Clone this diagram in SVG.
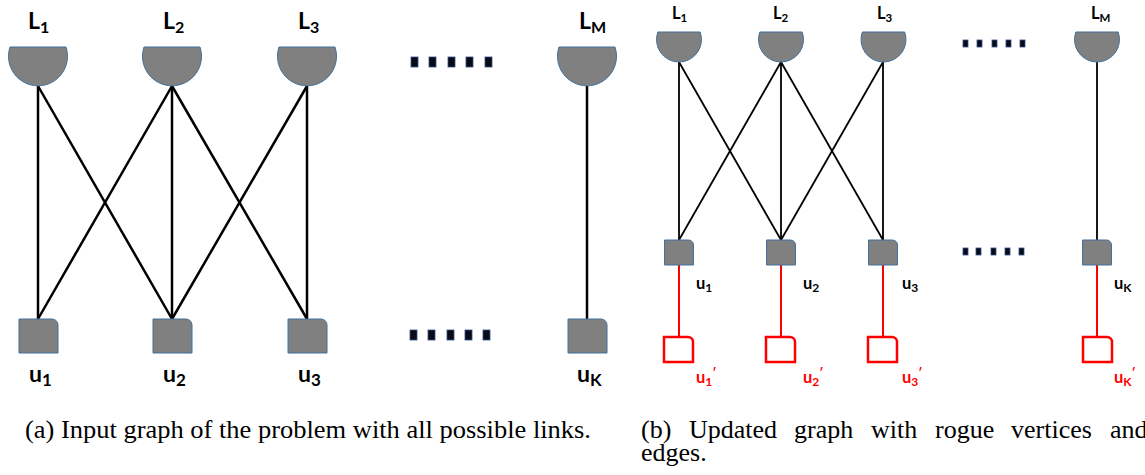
<svg xmlns="http://www.w3.org/2000/svg" width="1145" height="475" viewBox="0 0 1145 475">
<style>
.disc{fill:#808080;stroke:#41719C;stroke-width:1}
.unode{fill:#808080;stroke:#41719C;stroke-width:1}
.rnode{fill:#ffffff;stroke:#ff0000;stroke-width:2.5}
.ea{stroke:#000;stroke-width:2.5;fill:none}
.eb{stroke:#000;stroke-width:1.8;fill:none}
.er{stroke:#ff0000;stroke-width:2;fill:none}
.dot{fill:#0a0a14;stroke:#2F528F;stroke-width:0.8}
.lblA{font-family:Lato,"Open Sans",sans-serif;font-weight:bold;font-size:23px;fill:#000}
.lblB{font-family:Lato,"Open Sans",sans-serif;font-weight:bold;font-size:16.5px;fill:#000}
.red{fill:#ff0000}
.cap{font-family:"Liberation Serif","Times New Roman",serif;font-size:26px;fill:#000}
</style>
<g id="connectors">
  <g id="edges-a">
    <line class="ea" x1="38" y1="86" x2="38" y2="319"/>
    <line class="ea" x1="38" y1="86" x2="172" y2="319"/>
    <line class="ea" x1="172" y1="86" x2="38" y2="319"/>
    <line class="ea" x1="172" y1="86" x2="172" y2="319"/>
    <line class="ea" x1="172" y1="86" x2="307" y2="319"/>
    <line class="ea" x1="307" y1="86" x2="172" y2="319"/>
    <line class="ea" x1="307" y1="86" x2="307" y2="319"/>
    <line class="ea" x1="587" y1="86" x2="587" y2="319"/>
  </g>
  <g id="edges-b">
    <line class="eb" x1="679" y1="62" x2="679" y2="240"/>
    <line class="eb" x1="679" y1="62" x2="781" y2="240"/>
    <line class="eb" x1="781" y1="62" x2="679" y2="240"/>
    <line class="eb" x1="781" y1="62" x2="781" y2="240"/>
    <line class="eb" x1="781" y1="62" x2="883" y2="240"/>
    <line class="eb" x1="883" y1="62" x2="781" y2="240"/>
    <line class="eb" x1="883" y1="62" x2="883" y2="240"/>
    <line class="eb" x1="1097" y1="62" x2="1097" y2="240"/>
    <line class="er" x1="679" y1="265" x2="679" y2="337"/>
    <line class="er" x1="781" y1="265" x2="781" y2="337"/>
    <line class="er" x1="883" y1="265" x2="883" y2="337"/>
    <line class="er" x1="1097" y1="265" x2="1097" y2="337"/>
  </g>
</g>
<!-- panel (a) -->
<g id="a-L1"><path class="disc" d="M10,47 H66 A29.5,29.5 0 1 1 10,47 Z"/><text class="lblA" x="28" y="29">L<tspan font-size="16" dy="4">1</tspan></text></g>
<g id="a-L2"><path class="disc" d="M144,47 H200 A29.5,29.5 0 1 1 144,47 Z"/><text class="lblA" x="163" y="29">L<tspan font-size="16" dy="4">2</tspan></text></g>
<g id="a-L3"><path class="disc" d="M279,47 H335 A29.5,29.5 0 1 1 279,47 Z"/><text class="lblA" x="298" y="29">L<tspan font-size="16" dy="4">3</tspan></text></g>
<g id="a-LM"><path class="disc" d="M559,47 H615 A29.5,29.5 0 1 1 559,47 Z"/><text class="lblA" x="579" y="29">L<tspan font-size="16" dy="4">M</tspan></text></g>
<g id="a-u1"><path class="unode" d="M19,319 H52 A6,6 0 0 1 58,325 V353 H19 Z"/><text class="lblA" x="29" y="382">u<tspan font-size="17" dy="4">1</tspan></text></g>
<g id="a-u2"><path class="unode" d="M153,319 H186 A6,6 0 0 1 192,325 V353 H153 Z"/><text class="lblA" x="163" y="382">u<tspan font-size="17" dy="4">2</tspan></text></g>
<g id="a-u3"><path class="unode" d="M288,319 H321 A6,6 0 0 1 327,325 V353 H288 Z"/><text class="lblA" x="298" y="382">u<tspan font-size="17" dy="4">3</tspan></text></g>
<g id="a-uK"><path class="unode" d="M568,319 H601 A6,6 0 0 1 607,325 V353 H568 Z"/><text class="lblA" x="577" y="382">u<tspan font-size="17" dy="4">K</tspan></text></g>
<g id="a-dots-top">
  <rect class="dot" x="411" y="57" width="7" height="10"/><rect class="dot" x="429" y="57" width="7" height="10"/><rect class="dot" x="448" y="57" width="7" height="10"/><rect class="dot" x="466" y="57" width="7" height="10"/><rect class="dot" x="485" y="57" width="7" height="10"/>
</g>
<g id="a-dots-bottom">
  <rect class="dot" x="410" y="330" width="7" height="10"/><rect class="dot" x="428" y="330" width="7" height="10"/><rect class="dot" x="447" y="330" width="7" height="10"/><rect class="dot" x="465" y="330" width="7" height="10"/><rect class="dot" x="483" y="330" width="7" height="10"/>
</g>
<!-- panel (b) -->
<g id="b-L1"><path class="disc" d="M657.8,32 H700.2 A22.5,22.5 0 1 1 657.8,32 Z"/><text class="lblB" x="672" y="19">L<tspan font-size="11.5" dy="3">1</tspan></text></g>
<g id="b-L2"><path class="disc" d="M759.8,32 H802.2 A22.5,22.5 0 1 1 759.8,32 Z"/><text class="lblB" x="773" y="19">L<tspan font-size="11.5" dy="3">2</tspan></text></g>
<g id="b-L3"><path class="disc" d="M862.3,32 H904.7 A22.5,22.5 0 1 1 862.3,32 Z"/><text class="lblB" x="877" y="19">L<tspan font-size="11.5" dy="3">3</tspan></text></g>
<g id="b-LM"><path class="disc" d="M1075.8,32 H1118.2 A22.5,22.5 0 1 1 1075.8,32 Z"/><text class="lblB" x="1091" y="19">L<tspan font-size="11.5" dy="3">M</tspan></text></g>
<g id="b-u1"><path class="unode" d="M664.5,240 H688.5 A5,5 0 0 1 693.5,245 V265 H664.5 Z"/><text class="lblB" x="696" y="289">u<tspan font-size="12" dy="3">1</tspan></text></g>
<g id="b-u2"><path class="unode" d="M766.5,240 H790.5 A5,5 0 0 1 795.5,245 V265 H766.5 Z"/><text class="lblB" x="803" y="289">u<tspan font-size="12" dy="3">2</tspan></text></g>
<g id="b-u3"><path class="unode" d="M868.5,240 H892.5 A5,5 0 0 1 897.5,245 V265 H868.5 Z"/><text class="lblB" x="902" y="289">u<tspan font-size="12" dy="3">3</tspan></text></g>
<g id="b-uK"><path class="unode" d="M1082.5,240 H1106.5 A5,5 0 0 1 1111.5,245 V265 H1082.5 Z"/><text class="lblB" x="1114" y="289">u<tspan font-size="12" dy="3">K</tspan></text></g>
<g id="b-u1p"><path class="rnode" d="M664,337 H688 A5,5 0 0 1 693,342 V362 H664 Z"/><text class="lblB red" x="696" y="383">u<tspan font-size="12" dy="3">1</tspan><tspan font-size="12" dy="-9">′</tspan></text></g>
<g id="b-u2p"><path class="rnode" d="M766,337 H790 A5,5 0 0 1 795,342 V362 H766 Z"/><text class="lblB red" x="803" y="383">u<tspan font-size="12" dy="3">2</tspan><tspan font-size="12" dy="-9">′</tspan></text></g>
<g id="b-u3p"><path class="rnode" d="M868,337 H892 A5,5 0 0 1 897,342 V362 H868 Z"/><text class="lblB red" x="902" y="383">u<tspan font-size="12" dy="3">3</tspan><tspan font-size="12" dy="-9">′</tspan></text></g>
<g id="b-uKp"><path class="rnode" d="M1083,337 H1107 A5,5 0 0 1 1112,342 V362 H1083 Z"/><text class="lblB red" x="1114" y="383">u<tspan font-size="12" dy="3">K</tspan><tspan font-size="12" dy="-9">′</tspan></text></g>
<g id="b-dots-top">
  <rect class="dot" x="963" y="40" width="5" height="7"/><rect class="dot" x="977" y="40" width="5" height="7"/><rect class="dot" x="992" y="40" width="5" height="7"/><rect class="dot" x="1006" y="40" width="5" height="7"/><rect class="dot" x="1020" y="40" width="5" height="7"/>
</g>
<g id="b-dots-bottom">
  <rect class="dot" x="963" y="248" width="5" height="7"/><rect class="dot" x="976" y="248" width="5" height="7"/><rect class="dot" x="991" y="248" width="5" height="7"/><rect class="dot" x="1005" y="248" width="5" height="7"/><rect class="dot" x="1019" y="248" width="5" height="7"/>
</g>
<g id="captions">
  <text class="cap" x="25" y="438" textLength="566" lengthAdjust="spacingAndGlyphs">(a) Input graph of the problem with all possible links.</text>
  <text class="cap" y="438"><tspan x="641">(b)</tspan><tspan x="689">Updated</tspan><tspan x="794">graph</tspan><tspan x="871">with</tspan><tspan x="935">rogue</tspan><tspan x="1011">vertices</tspan><tspan x="1110">and</tspan></text>
  <text class="cap" x="641" y="461">edges.</text>
</g>
</svg>
